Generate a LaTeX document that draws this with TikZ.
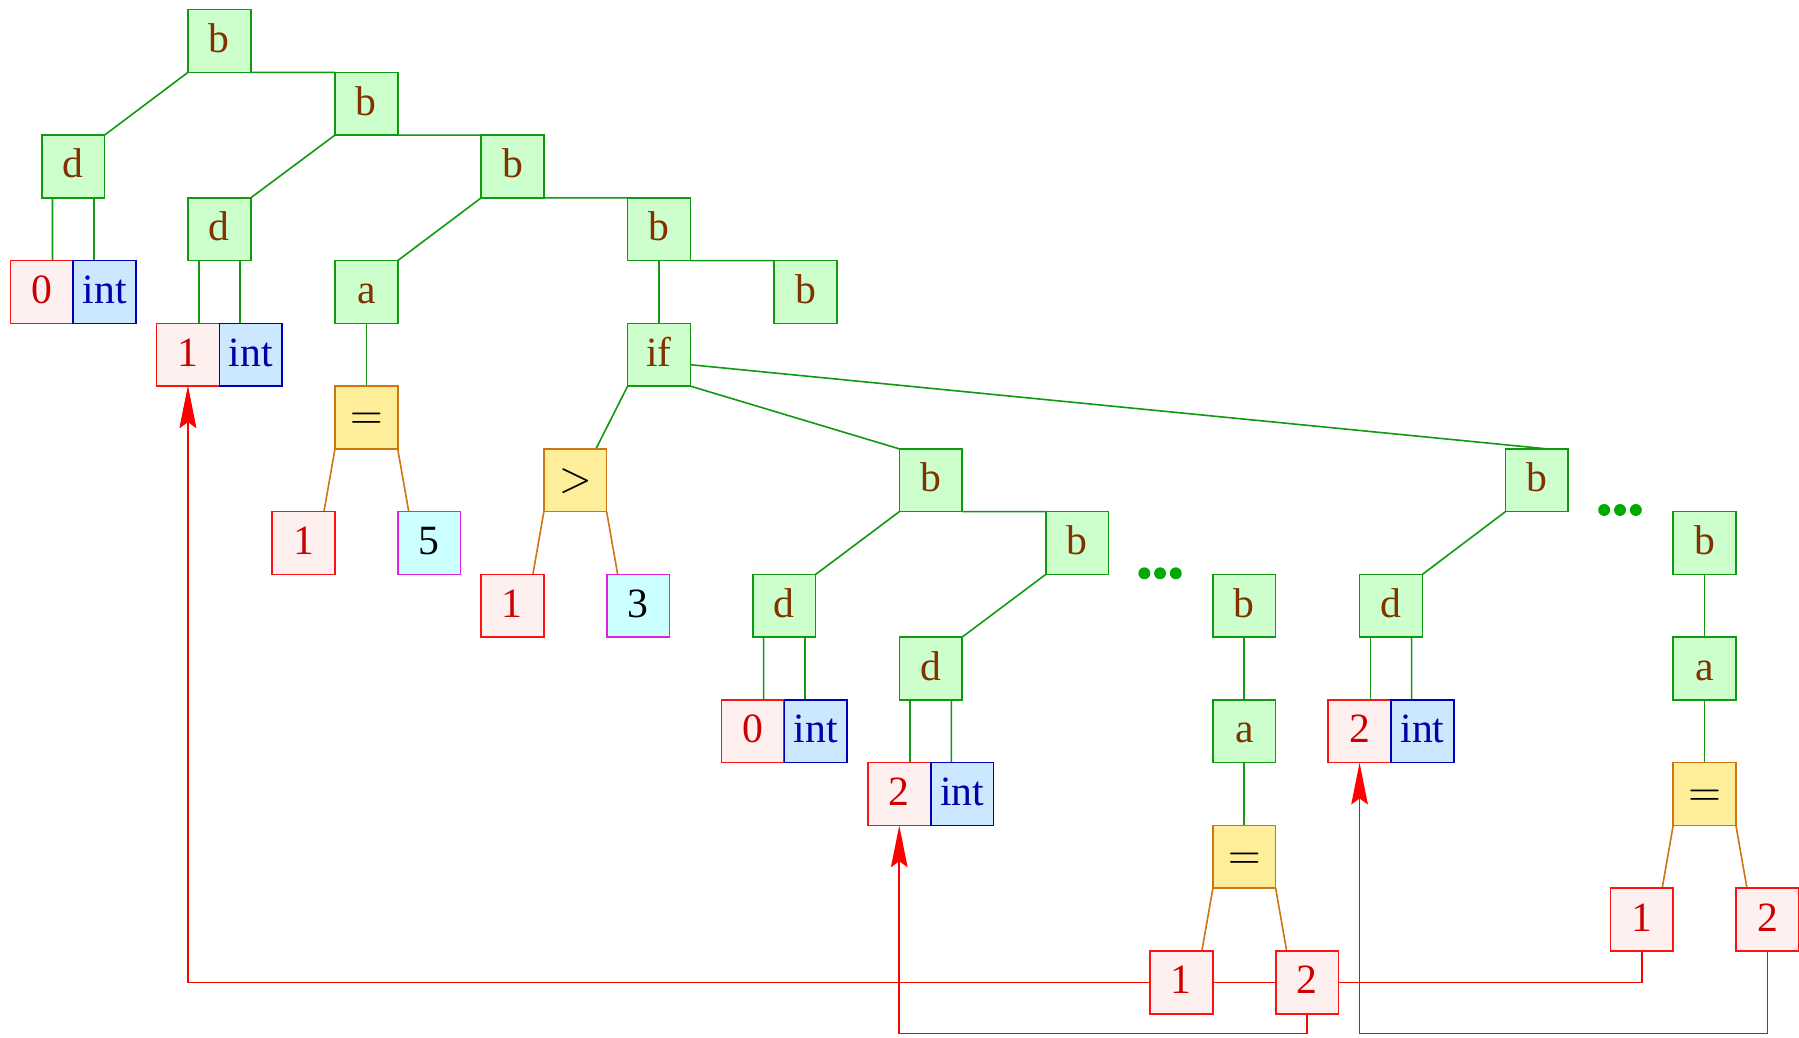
\documentclass[tikz,border=0pt]{standalone}
\usepackage{fontspec}
\setmainfont{Liberation Serif}
\usetikzlibrary{arrows.meta,backgrounds,calc}
\definecolor{gfill}{HTML}{CCFFCC}
\definecolor{gline}{HTML}{119911}
\definecolor{gtext}{HTML}{803300}
\definecolor{rfill}{HTML}{FFF0F0}
\definecolor{rline}{HTML}{FF1111}
\definecolor{rtext}{HTML}{CC0000}
\definecolor{bfill}{HTML}{CCE8FF}
\definecolor{bline}{HTML}{0000BB}
\definecolor{btext}{HTML}{0000AA}
\definecolor{yfill}{HTML}{FFEE99}
\definecolor{yline}{HTML}{CC7711}
\definecolor{cfill}{HTML}{CCFFFF}
\definecolor{cline}{HTML}{DD22DD}
\definecolor{dotc}{HTML}{00AA00}
\definecolor{arrc}{HTML}{FF0000}
\begin{document}
\begin{tikzpicture}[x=0.25pt,y=-0.25pt, font=\fontsize{9.08pt}{11pt}\selectfont,
 box/.style={draw, line width=0.35pt, minimum width=13.675pt, minimum height=13.675pt, inner sep=0pt, outer sep=0pt, text height=0.75em, text depth=0.25em},
 gbox/.style={box, draw=gline, fill=gfill, text=gtext},
 rbox/.style={box, draw=rline, fill=rfill, text=rtext},
 ibox/.style={box, draw=bline, fill=bfill, text=btext},
 ybox/.style={box, draw=yline, fill=yfill, text=black},
 cbox/.style={box, draw=cline, fill=cfill, text=black},
 tedge/.style={draw=gline, line width=0.35pt},
 oedge/.style={draw=yline, line width=0.35pt},
 ref/.style={draw=arrc, line width=0.35pt, -{Stealth[length=9.1pt,width=3.6pt,inset=1.3pt]}},
 dot/.style={fill=dotc}
]
\useasboundingbox (0,0) rectangle (1568,903.9);
% nodes
\node[gbox] (b1) at (191.2,35.7) {b};
\node[gbox] (b2) at (319.3,90.4) {b};
\node[gbox] (d1) at (63.8,145.1) {d};
\node[gbox] (b3) at (446.8,145.1) {b};
\node[gbox] (d2) at (191.2,199.8) {d};
\node[gbox] (b4) at (574.4,199.8) {b};
\node[rbox] (v0) at (36.4,254.5) {0};
\node[ibox] (t0) at (91.2,254.5) {int};
\node[gbox] (a1) at (319.3,254.5) {a};
\node[gbox] (b5) at (702,254.5) {b};
\node[rbox] (v1) at (163.8,309.2) {1};
\node[ibox] (t1) at (218.6,309.2) {int};
\node[gbox] (nif) at (574.4,309.2) {if};
\node[ybox] (eq1) at (319.3,363.9) {$=$};
\node[ybox] (gt) at (501.4,418.6) {$>$};
\node[gbox] (b6) at (811.2,418.6) {b};
\node[gbox] (b9) at (1339.5,418.6) {b};
\node[rbox] (x1) at (264.5,473.3) {1};
\node[cbox] (k5) at (374.1,473.3) {5};
\node[gbox] (b7) at (938.8,473.3) {b};
\node[gbox] (b10) at (1485.7,473.3) {b};
\node[rbox] (x2) at (446.6,528) {1};
\node[cbox] (k3) at (556.2,528) {3};
\node[gbox] (d3) at (683.6,528) {d};
\node[gbox] (b8) at (1084.5,528) {b};
\node[gbox] (d5) at (1212.4,528) {d};
\node[gbox] (d4) at (811.2,582.7) {d};
\node[gbox] (a3) at (1485.7,582.7) {a};
\node[rbox] (v2) at (656.2,637.4) {0};
\node[ibox] (t2) at (711,637.4) {int};
\node[gbox] (a2) at (1084.5,637.4) {a};
\node[rbox] (v4) at (1185,637.4) {2};
\node[ibox] (t4) at (1239.8,637.4) {int};
\node[rbox] (v3) at (783.8,692.1) {2};
\node[ibox] (t3) at (838.6,692.1) {int};
\node[ybox] (eq3) at (1485.7,692.1) {$=$};
\node[ybox] (eq2) at (1084.5,746.8) {$=$};
\node[rbox] (x5) at (1430.9,801.5) {1};
\node[rbox] (x6) at (1540.5,801.5) {2};
\node[rbox] (x3) at (1029.7,856.2) {1};
\node[rbox] (x4) at (1139.3,856.2) {2};
\coordinate (low) at ($(x4.south)+(0,17.4)$);
% dots
\fill[dot] (997.4,499.7) circle[radius=1.3pt] (1011.1,499.7) circle[radius=1.3pt] (1024.8,499.7) circle[radius=1.3pt];
\fill[dot] (1398.2,444.5) circle[radius=1.3pt] (1412,444.5) circle[radius=1.3pt] (1425.8,444.5) circle[radius=1.3pt];
\begin{scope}[on background layer]
\path[tedge] (b1.south west) -- (d1.north east);
\path[tedge] (b1.south east) -- (b2.north west);
\path[tedge] (b2.south west) -- (d2.north east);
\path[tedge] (b2.south east) -- (b3.north west);
\path[tedge] (b3.south west) -- (a1.north east);
\path[tedge] (b3.south east) -- (b4.north west);
\path[tedge] (b4.south east) -- (b5.north west);
\path[tedge] (b4.south) -- (nif.north);
\path[tedge] (a1.south) -- (eq1.north);
\path[tedge] (nif.south west) -- ($(gt.north)+(18,0)$);
\path[tedge] (nif.south east) -- (b6.north west);
\path[tedge] ($(nif.east)+(0,8.7)$) -- ($(b9.north)+(9,0)$);
\path[tedge] (b6.south west) -- (d3.north east);
\path[tedge] (b6.south east) -- (b7.north west);
\path[tedge] (b7.south west) -- (d4.north east);
\path[tedge] (b8.south) -- (a2.north);
\path[tedge] (a2.south) -- (eq2.north);
\path[tedge] (b9.south west) -- (d5.north east);
\path[tedge] (b10.south) -- (a3.north);
\path[tedge] (a3.south) -- (eq3.north);
\foreach \d/\v/\t in {d1/v0/t0, d2/v1/t1, d3/v2/t2, d4/v3/t3, d5/v4/t4}{
  \path[tedge] ($(\d.south)+(-18,0)$) -- ($(\v.north)+(9.4,0)$);
  \path[tedge] ($(\d.south)+(18,0)$) -- ($(\t.north)+(-9.4,0)$);
}
\foreach \p/\l/\r in {eq1/x1/k5, gt/x2/k3, eq2/x3/x4, eq3/x5/x6}{
  \path[oedge] (\p.south west) -- ($(\l.north east)+(-9.5,0)$);
  \path[oedge] (\p.south east) -- ($(\r.north west)+(9.5,0)$);
}
\path[ref] (x3.west) -| (v1.south);
\path[ref] (x5.south) |- (x3.west) -| (v1.south);
\path[ref] (x4.south) -- (low) -| (v3.south);
\path[ref] (x6.south) |- (v4.south |- low) -- (v4.south);
\end{scope}
\end{tikzpicture}
\end{document}
